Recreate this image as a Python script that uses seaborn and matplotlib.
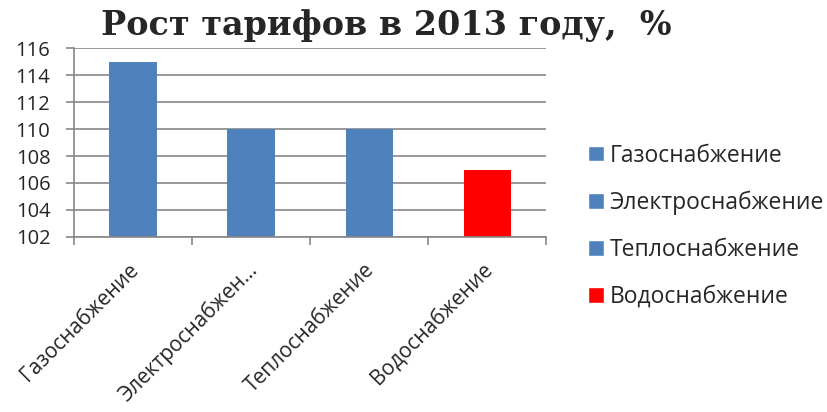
import seaborn as sns
import matplotlib.pyplot as plt
import pandas as pd
from matplotlib.patches import Patch
import matplotlib.transforms as mtransforms

# Data
categories = ['Газоснабжение', 'Электроснабжение', 'Теплоснабжение', 'Водоснабжение']
tick_labels = ['Газоснабжение', 'Электроснабжен...', 'Теплоснабжение', 'Водоснабжение']
growth = [115, 110, 110, 107]
bar_colors = ['#4F81BD', '#4F81BD', '#4F81BD', '#FF0000']

df = pd.DataFrame({'category': categories, 'value': growth})

sns.set_style('white')
plt.rcParams['font.family'] = ['Open Sans', 'DejaVu Sans']

fig = plt.figure(figsize=(8.27, 4.12), dpi=100)
ax = fig.add_axes([0.0895, 0.425, 0.571, 0.458])

sns.barplot(data=df, x='category', y='value', hue='category',
            palette=dict(zip(categories, bar_colors)), width=0.4,
            legend=False, ax=ax, saturation=1, edgecolor='none')

ax.set_ylim(102, 116)
ax.set_yticks(range(102, 117, 2))
ax.set_xlim(-0.5, len(categories) - 0.5)
ax.yaxis.grid(True, color='#878787', linewidth=1.2)
ax.set_axisbelow(True)
for side in ['top', 'right']:
    ax.spines[side].set_visible(False)
for side in ['left', 'bottom']:
    ax.spines[side].set_color('#878787')
    ax.spines[side].set_linewidth(1.2)

ax.set_xlabel('')
ax.set_ylabel('')
ax.tick_params(axis='y', labelsize=14.5, length=6, color='#878787', width=1.2,
               left=True, pad=11)
ax.set_xticks(range(len(categories)))
ax.set_xticklabels(tick_labels, rotation=45, ha='right', rotation_mode='anchor',
                   fontsize=15)
ax.tick_params(axis='x', length=0, pad=16)
shift = mtransforms.ScaledTranslation(-5 / 100, 0, fig.dpi_scale_trans)
for lbl in ax.get_xticklabels():
    lbl.set_transform(lbl.get_transform() + shift)
ax.set_xticks([i - 0.5 for i in range(len(categories) + 1)], minor=True)
ax.tick_params(axis='x', which='minor', length=6, color='#878787', width=1.2,
               bottom=True)

fig.suptitle('Рост тарифов в 2013 году,  %', x=0.467, y=0.978,
             fontsize=24, fontweight='bold', family='DejaVu Serif')

handles = [Patch(facecolor=c, label=l) for c, l in zip(bar_colors, categories)]
fig.legend(handles=handles, loc='center left', bbox_to_anchor=(0.7115, 0.451),
           frameon=False, fontsize=16.5, handlelength=0.68, handleheight=0.68,
           handletextpad=0.25, labelspacing=1.0, borderaxespad=0, borderpad=0)

fig.savefig('out.png', dpi=100)
